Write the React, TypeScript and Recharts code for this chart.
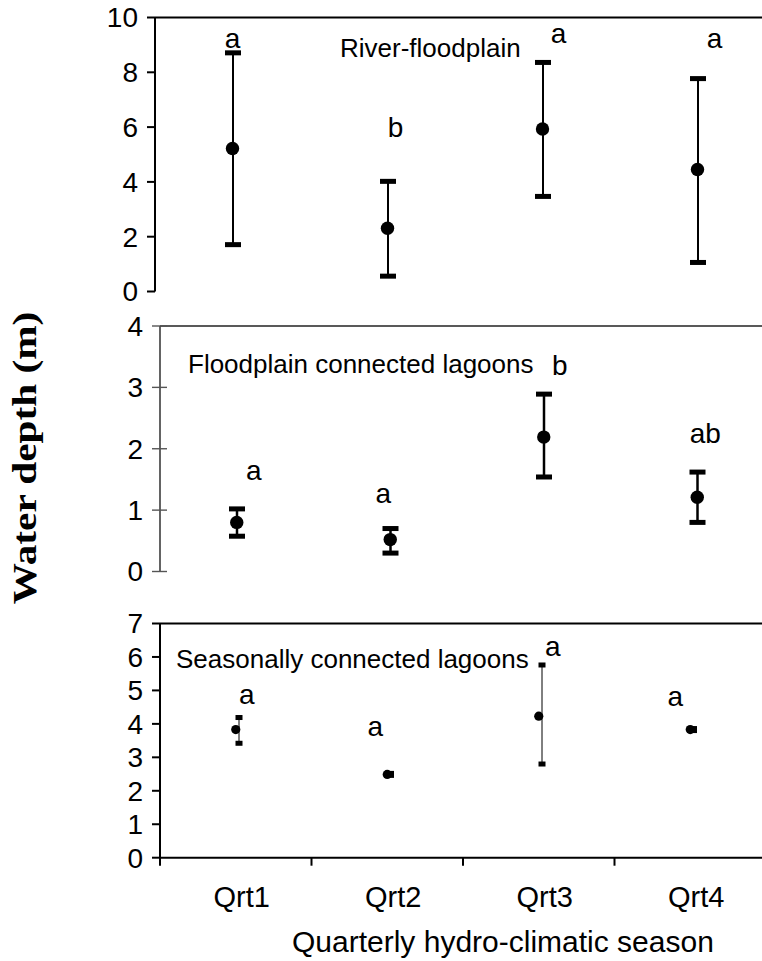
import React from 'react';
import { ComposedChart, Bar, Line, XAxis, YAxis, ReferenceLine, ReferenceDot } from 'recharts';

const quarters = ['Qrt1', 'Qrt2', 'Qrt3', 'Qrt4'];

// River-floodplain
const riverMean = [5.22, 2.31, 5.93, 4.45];
const riverLow = [1.71, 0.56, 3.47, 1.06];
const riverHigh = [8.71, 4.02, 8.36, 7.77];
const riverLetters = ['a', 'b', 'a', 'a'];
const riverLetterY = [9.25, 5.97, 9.43, 9.25];
const riverTicks = [0, 2, 4, 6, 8, 10];

// Floodplain connected lagoons
const connMean = [0.8, 0.52, 2.19, 1.21];
const connLow = [0.575, 0.3, 1.54, 0.8];
const connHigh = [1.02, 0.7, 2.89, 1.62];
const connLetters = ['a', 'a', 'b', 'ab'];
const connLetterY = [1.64, 1.27, 3.35, 2.25];
const connTicks = [0, 1, 2, 3, 4];

// Seasonally connected lagoons
const seasMean = [3.83, 2.49, 4.23, 3.83];
const seasLow = [3.42, 2.46, 2.8, 3.8];
const seasHigh = [4.19, 2.52, 5.76, 3.86];
const seasLetters = ['a', 'a', 'a', 'a'];
const seasLetterY = [4.87, 3.92, 6.31, 4.81];
const seasTicks = [0, 1, 2, 3, 4, 5, 6, 7];

const FONT = 'Liberation Sans, Arial, Helvetica, sans-serif';

const buildRows = (mean: number[], low: number[], high: number[]) =>
  quarters.map((q, i) => ({ q, mean: mean[i], range: [low[i], high[i]] }));

type PanelCfg = {
  top: number;
  width: number;
  height: number;
  yWidth: number;
  marginTop: number;
  marginBottom: number;
  axisW: number;
  axisColor: string;
  tickColor: string;
  tickInner: number;
  capW: number;
  capH: number;
  lineW: number;
  dotR: number;
  barOffset: number;
  letterDx: number[];
  showX: boolean;
};

const makeErrShape = (cfg: PanelCfg) => (props: any) => {
  const { x, y, width, height } = props;
  const cx = x + width / 2 + cfg.barOffset;
  const t = Math.min(y, y + height);
  const b = Math.max(y, y + height);
  return (
    <g>
      <line x1={cx} x2={cx} y1={t} y2={b} stroke="#000" strokeWidth={cfg.lineW} />
      <rect x={cx - cfg.capW / 2} y={t - cfg.capH / 2} width={cfg.capW} height={cfg.capH} fill="#000" />
      <rect x={cx - cfg.capW / 2} y={b - cfg.capH / 2} width={cfg.capW} height={cfg.capH} fill="#000" />
    </g>
  );
};

const YTick = (props: any) => {
  const { x, y, payload, cfg } = props;
  const axisX = x + 17;
  return (
    <g>
      <line x1={axisX - 8} x2={axisX + cfg.tickInner} y1={y} y2={y} stroke={cfg.tickColor} strokeWidth={cfg.axisW} />
      <text x={x} y={y} dy="0.355em" textAnchor="end" fontSize={28} fontFamily={FONT} fill="#000">
        {payload.value}
      </text>
    </g>
  );
};

const CatTick = (props: any) => {
  const { x, y, payload } = props;
  const off = payload && typeof payload.offset === 'number' ? payload.offset : 0;
  const axisY = y - 29;
  return (
    <g>
      <line x1={x - off} x2={x - off} y1={axisY} y2={axisY + 8} stroke="#000" strokeWidth={2} />
      <text x={x + 6} y={y} dy="0.71em" textAnchor="middle" fontSize={29} fontFamily={FONT} fill="#000">
        {payload.value}
      </text>
    </g>
  );
};

function Panel({
  rows,
  max,
  ticks,
  letters,
  letterY,
  cfg,
}: {
  rows: any[];
  max: number;
  ticks: number[];
  letters: string[];
  letterY: number[];
  cfg: PanelCfg;
}) {
  return (
    <div style={{ position: 'absolute', left: 0, top: cfg.top }}>
      <ComposedChart
        width={cfg.width}
        height={cfg.height}
        data={rows}
        margin={{ top: cfg.marginTop, right: 0, bottom: cfg.marginBottom, left: 0 }}
        barCategoryGap={0}
      >
        {cfg.showX ? (
          <XAxis
            dataKey="q"
            height={60}
            interval={0}
            tickSize={8}
            tickMargin={21}
            tickLine={false}
            axisLine={{ stroke: cfg.axisColor, strokeWidth: cfg.axisW }}
            tick={(p: any) => <CatTick {...p} />}
          />
        ) : (
          <XAxis
            dataKey="q"
            height={0}
            tick={false}
            tickLine={false}
            axisLine={{ stroke: cfg.axisColor, strokeWidth: cfg.axisW }}
          />
        )}
        <YAxis
          type="number"
          domain={[0, max]}
          ticks={ticks}
          interval={0}
          width={cfg.yWidth}
          tickSize={8}
          tickMargin={9}
          tickLine={false}
          axisLine={{ stroke: cfg.axisColor, strokeWidth: cfg.axisW }}
          tick={(p: any) => <YTick {...p} cfg={cfg} />}
        />
        <ReferenceLine y={max} stroke={cfg.axisColor} strokeWidth={cfg.axisW} />
        <Bar dataKey="range" barSize={20} isAnimationActive={false} shape={makeErrShape(cfg)} />
        <Line
          dataKey="mean"
          stroke="none"
          isAnimationActive={false}
          activeDot={false}
          dot={(p: any) => <circle key={`d${p.index}`} cx={p.cx} cy={p.cy} r={cfg.dotR} fill="#000" />}
        />
        {quarters.map((q, i) => (
          <ReferenceDot
            key={`l${i}`}
            x={q}
            y={letterY[i]}
            r={0}
            ifOverflow="visible"
            shape={(p: any) => (
              <text
                x={p.cx + cfg.letterDx[i]}
                y={p.cy}
                textAnchor="middle"
                dominantBaseline="central"
                fontSize={28}
                fontFamily={FONT}
                fill="#000"
              >
                {letters[i]}
              </text>
            )}
          />
        ))}
      </ComposedChart>
    </div>
  );
}

const riverCfg: PanelCfg = {
  top: 0, width: 775, height: 320, yWidth: 155, marginTop: 17.5, marginBottom: 28.5,
  axisW: 2, axisColor: '#000', tickColor: '#000', tickInner: 0,
  capW: 16, capH: 5, lineW: 2, dotR: 6.7, barOffset: 0,
  letterDx: [0, 8, 16, 17], showX: false,
};
const connCfg: PanelCfg = {
  top: 300, width: 774, height: 300, yWidth: 160, marginTop: 26, marginBottom: 28.5,
  axisW: 1.4, axisColor: '#222', tickColor: '#555', tickInner: 7,
  capW: 16, capH: 5, lineW: 2.5, dotR: 6.7, barOffset: 0,
  letterDx: [17, -7, 16, 8], showX: false,
};
const seasCfg: PanelCfg = {
  top: 600, width: 766, height: 361, yWidth: 160, marginTop: 23.5, marginBottom: 43.3,
  axisW: 2, axisColor: '#000', tickColor: '#000', tickInner: 0,
  capW: 7, capH: 5, lineW: 1, dotR: 4.6, barOffset: 3,
  letterDx: [11, -12, 14, -15], showX: true,
};

export default function App() {
  return (
    <div
      style={{
        position: 'absolute',
        left: 0,
        top: 0,
        width: 762,
        height: 961,
        overflow: 'hidden',
        background: '#fff',
      }}
    >
      <Panel rows={buildRows(riverMean, riverLow, riverHigh)} max={10} ticks={riverTicks} letters={riverLetters} letterY={riverLetterY} cfg={riverCfg} />
      <Panel rows={buildRows(connMean, connLow, connHigh)} max={4} ticks={connTicks} letters={connLetters} letterY={connLetterY} cfg={connCfg} />
      <Panel rows={buildRows(seasMean, seasLow, seasHigh)} max={7} ticks={seasTicks} letters={seasLetters} letterY={seasLetterY} cfg={seasCfg} />
      <svg width={762} height={961} style={{ position: 'absolute', left: 0, top: 0, pointerEvents: 'none' }}>
        <text x={340} y={57} fontSize={26} fontFamily={FONT} fill="#000">River-floodplain</text>
        <text x={188} y={373} fontSize={26} fontFamily={FONT} fill="#000">Floodplain connected lagoons</text>
        <text x={176} y={668} fontSize={26} fontFamily={FONT} fill="#000">Seasonally connected lagoons</text>
        <text x={292} y={952} fontSize={30} fontFamily={FONT} fill="#000">Quarterly hydro-climatic season</text>
        <text
          transform="translate(36 458) rotate(-90) scale(1.25 1)"
          textAnchor="middle"
          fontSize={33}
          fontWeight="bold"
          fontFamily="Liberation Serif, Times New Roman, serif"
          fill="#000"
        >
          Water depth (m)
        </text>
      </svg>
    </div>
  );
}
